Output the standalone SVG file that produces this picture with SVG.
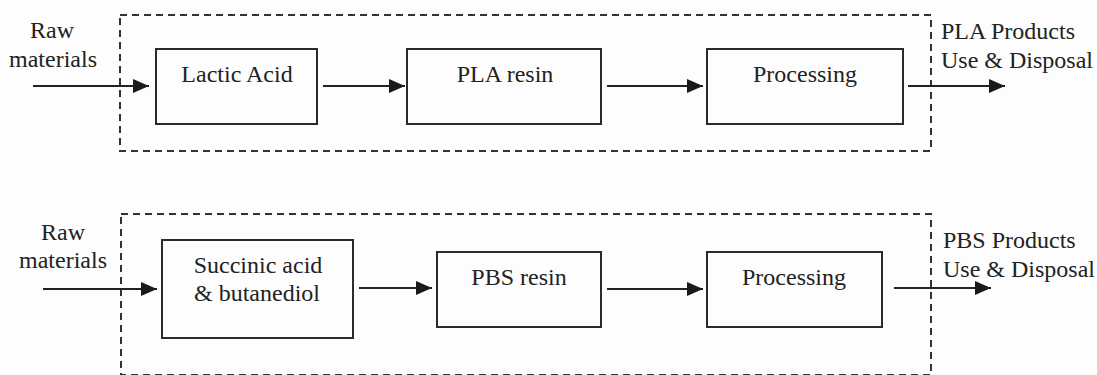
<svg xmlns="http://www.w3.org/2000/svg" width="1097" height="375" viewBox="0 0 1097 375">
  <style>
    .bg { fill: #fdfdfd; }
    .frame { fill: none; stroke: #333; stroke-width: 2; stroke-dasharray: 7 5; }
    .box { fill: none; stroke: #2b2b2b; stroke-width: 2; }
    .link { fill: none; stroke: #222; stroke-width: 2; }
    text { font-family: "Liberation Serif", "Times New Roman", serif; font-size: 24px; fill: #222; }
    .c { text-anchor: middle; }
  </style>
  <defs>
    <marker id="arrow" viewBox="0 0 16 14" refX="16" refY="7" markerWidth="16" markerHeight="14" markerUnits="userSpaceOnUse" orient="auto">
      <path d="M0,0 L16,7 L0,14 Z" fill="#1a1a1a"/>
    </marker>
  </defs>

  <rect class="bg" x="0" y="0" width="1097" height="375"/>

  <!-- system boundaries -->
  <g id="boundaries">
    <rect class="frame" x="120" y="15" width="811" height="136"/>
    <rect class="frame" x="121" y="214" width="810" height="161"/>
  </g>

  <!-- PLA chain -->
  <g id="pla-raw">
    <text x="52" y="38" class="c">Raw</text>
    <text x="53" y="67" class="c">materials</text>
  </g>
  <g id="lactic-acid">
    <rect class="box" x="156" y="49" width="161" height="75"/>
    <text x="237" y="82" class="c">Lactic Acid</text>
  </g>
  <g id="pla-resin">
    <rect class="box" x="407" y="49" width="194" height="75"/>
    <text x="505" y="82" class="c">PLA resin</text>
  </g>
  <g id="pla-processing">
    <rect class="box" x="707" y="49" width="196" height="75"/>
    <text x="805" y="82" class="c">Processing</text>
  </g>
  <g id="pla-products">
    <text x="941" y="39">PLA Products</text>
    <text x="941" y="68">Use &amp; Disposal</text>
  </g>

  <!-- PBS chain -->
  <g id="pbs-raw">
    <text x="63" y="240" class="c">Raw</text>
    <text x="63" y="268" class="c">materials</text>
  </g>
  <g id="succinic-acid">
    <rect class="box" x="162" y="240" width="191" height="98"/>
    <text x="258" y="273" class="c">Succinic acid</text>
    <text x="257" y="301" class="c">&amp; butanediol</text>
  </g>
  <g id="pbs-resin">
    <rect class="box" x="437" y="252" width="164" height="75"/>
    <text x="519" y="285" class="c">PBS resin</text>
  </g>
  <g id="pbs-processing">
    <rect class="box" x="707" y="252" width="175" height="75"/>
    <text x="794" y="285" class="c">Processing</text>
  </g>
  <g id="pbs-products">
    <text x="943" y="248">PBS Products</text>
    <text x="943" y="277">Use &amp; Disposal</text>
  </g>

  <!-- connectors -->
  <g id="connectors">
    <line class="link" x1="33" y1="86" x2="149" y2="86" marker-end="url(#arrow)"/>
    <line class="link" x1="323" y1="86" x2="405" y2="86" marker-end="url(#arrow)"/>
    <line class="link" x1="607" y1="86" x2="703" y2="86" marker-end="url(#arrow)"/>
    <line class="link" x1="908" y1="86" x2="1005" y2="86" marker-end="url(#arrow)"/>

    <line class="link" x1="43" y1="289" x2="157" y2="289" marker-end="url(#arrow)"/>
    <line class="link" x1="359" y1="288" x2="432" y2="288" marker-end="url(#arrow)"/>
    <line class="link" x1="607" y1="289" x2="703" y2="289" marker-end="url(#arrow)"/>
    <line class="link" x1="894" y1="288" x2="991" y2="288" marker-end="url(#arrow)"/>
  </g>
</svg>
